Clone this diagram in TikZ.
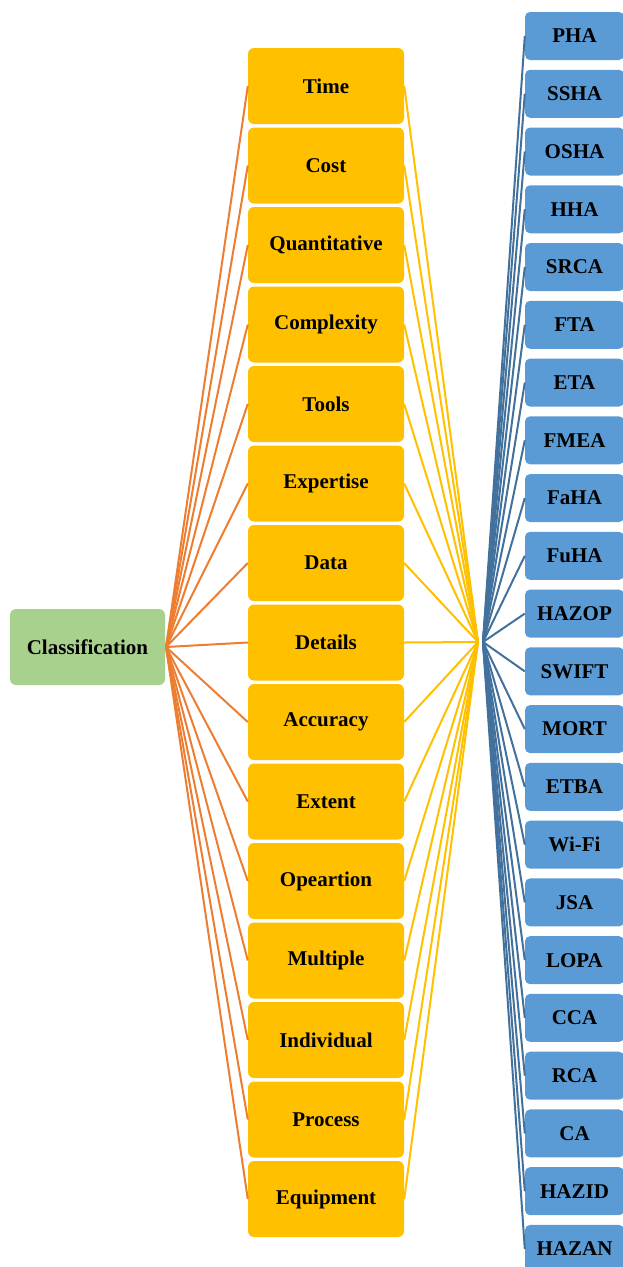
\documentclass[tikz,border=0pt]{standalone}
\usepackage{fontspec}
\setmainfont{Liberation Serif}
\definecolor{cgreen}{HTML}{A9D18E}
\definecolor{cgold}{HTML}{FFC000}
\definecolor{cblue}{HTML}{5B9BD5}
\definecolor{corange}{HTML}{ED7D31}
\definecolor{cblueline}{HTML}{41719C}
\tikzset{
  rootbox/.style={draw=none, fill=cgreen, rounded corners=6pt, minimum width=155pt, minimum height=76pt, font=\bfseries\fontsize{21}{24}\selectfont, inner sep=0pt},
  critbox/.style={draw=none, fill=cgold, rounded corners=6pt, minimum width=156pt, minimum height=76pt, font=\bfseries\fontsize{21}{24}\selectfont, inner sep=0pt},
  methbox/.style={draw=none, fill=cblue, rounded corners=5pt, minimum width=99pt, minimum height=48pt, font=\bfseries\fontsize{21}{24}\selectfont, inner sep=0pt},
  orline/.style={draw=corange, line width=2pt},
  yeline/.style={draw=cgold, line width=2pt},
  blline/.style={draw=cblueline, line width=2pt},
}
\begin{document}
\begin{tikzpicture}[x=1pt,y=-1pt]
\useasboundingbox (0,0) rectangle (622,1267);
\node[rootbox] (root) at (87.5,647) {Classification};
\coordinate (ohub) at (166,647);
\coordinate (yhub) at (478,642);
\coordinate (bhub) at (483,642);
\foreach \t [count=\i] in {Time,Cost,Quantitative,Complexity,Tools,Expertise,Data,Details,Accuracy,Extent,Opeartion,Multiple,Individual,Process,Equipment}{
  \node[critbox] (c\i) at (326,{86+(\i-1)*79.5}) {\t};
  \draw[orline] (ohub) -- (c\i.west);
  \draw[yeline] (c\i.east) -- (yhub);
}
\foreach \t [count=\i] in {PHA,SSHA,OSHA,HHA,SRCA,FTA,ETA,FMEA,FaHA,FuHA,HAZOP,SWIFT,MORT,ETBA,Wi-Fi,JSA,LOPA,CCA,RCA,CA,HAZID,HAZAN}{
  \node[methbox] (m\i) at (574.5,{36+(\i-1)*57.76}) {\t};
  \draw[blline] (bhub) -- (m\i.west);
}
\end{tikzpicture}
\end{document}
